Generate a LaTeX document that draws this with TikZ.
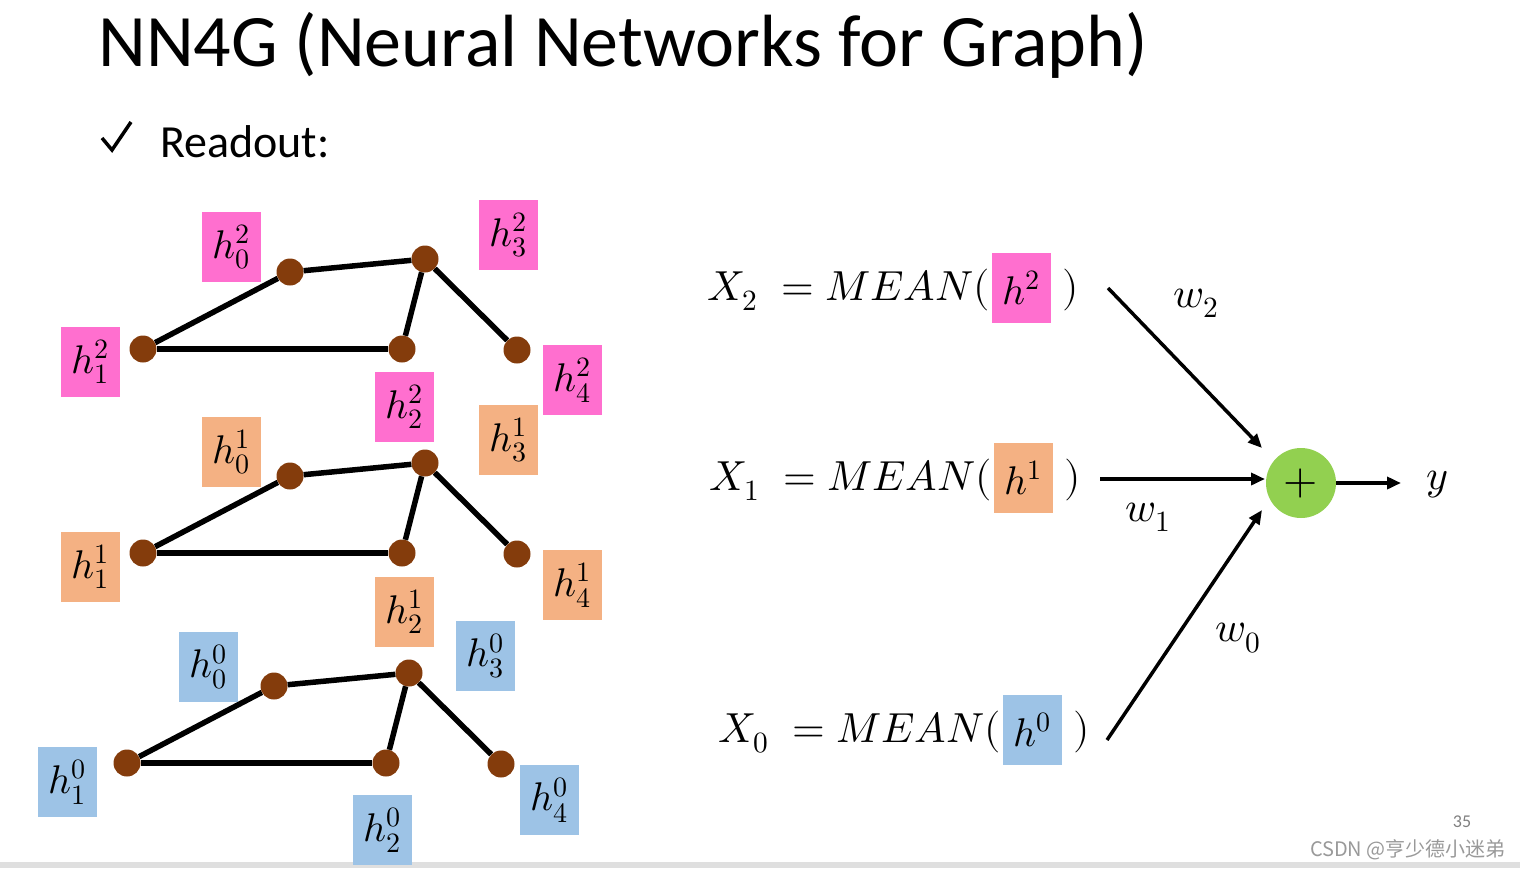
\documentclass[tikz,border=0pt]{standalone}
\usepackage{fontspec}
\usepackage{unicode-math}
\setmainfont{Carlito}
\setmathfont{Latin Modern Math}
\newfontfamily\cjk{Noto Sans CJK SC}
\usetikzlibrary{arrows.meta}
\definecolor{hpink}{HTML}{FF6FCF}
\definecolor{horange}{HTML}{F4B183}
\definecolor{hblue}{HTML}{9DC3E6}
\definecolor{vbrown}{HTML}{843C0C}
\definecolor{pgreen}{HTML}{92D050}
\begin{document}
\begin{tikzpicture}[x=1pt,y=1pt,yscale=-1,
  vert/.style={circle,fill=vbrown,minimum size=27,inner sep=0},
  edge/.style={line width=5.5},
  hlab/.style={minimum width=59,minimum height=70,inner sep=0,font=\fontsize{40}{40}\selectfont},
  mathtxt/.style={inner sep=0,font=\fontsize{42}{42}\selectfont},
  arr/.style={line width=3.5,-{Triangle[length=14,width=12]}}]
\useasboundingbox (0,0) rectangle (1520,868);
\fill[gray!25] (0,862) rectangle (1520,868);
\node[anchor=west,inner sep=0,font=\fontsize{74}{74}\selectfont] at (98,45) {NN4G (Neural Networks for Graph)};
\draw[line width=3.5] (102,138) -- (112,150) -- (131,122);
\node[anchor=west,inner sep=0,font=\fontsize{46}{46}\selectfont] at (160,142) {Readout:};
% three layers
\foreach \k/\dx/\dy in {2/0/0,1/0/204,0/-16/414}{
  \begin{scope}[shift={(\dx,\dy)}]
  \node[vert] (a\k0) at (290,272) {};
  \node[vert] (a\k1) at (143,349) {};
  \node[vert] (a\k2) at (402,349) {};
  \node[vert] (a\k3) at (425,259) {};
  \node[vert] (a\k4) at (517,350) {};
  \draw[edge] (a\k1) -- (a\k0) -- (a\k3) -- (a\k2);
  \draw[edge] (a\k1) -- (a\k2);
  \draw[edge] (a\k3) -- (a\k4);
  \end{scope}
}
\foreach \k/\dx/\dy/\c in {2/0/0/hpink,1/0/205/horange}{
  \node[hlab,fill=\c] (l\k0) at (231+\dx,247+\dy) {$h_0^{\k}$};
  \node[hlab,fill=\c] (l\k1) at (90+\dx,362+\dy) {$h_1^{\k}$};
  \node[hlab,fill=\c] (l\k2) at (404+\dx,407+\dy) {$h_2^{\k}$};
  \node[hlab,fill=\c] (l\k3) at (508+\dx,235+\dy) {$h_3^{\k}$};
  \node[hlab,fill=\c] (l\k4) at (572+\dx,380+\dy) {$h_4^{\k}$};
}
\node[hlab,fill=hblue] (l00) at (208,667) {$h_0^{0}$};
\node[hlab,fill=hblue] (l01) at (67,782) {$h_1^{0}$};
\node[hlab,fill=hblue] (l02) at (382,830) {$h_2^{0}$};
\node[hlab,fill=hblue] (l03) at (485,656) {$h_3^{0}$};
\node[hlab,fill=hblue] (l04) at (549,800) {$h_4^{0}$};
% readout
\node[mathtxt,anchor=east] (x2) at (990,290) {$X_2\;=MEAN($};
\node[hlab,fill=hpink] (b2) at (1021,288) {$h^{2}$};
\node[mathtxt,anchor=west] (r2) at (1062,290) {$)$};
\node[mathtxt,anchor=east] (x1) at (992,480) {$X_1\;=MEAN($};
\node[hlab,fill=horange] (b1) at (1023,478) {$h^{1}$};
\node[mathtxt,anchor=west] (r1) at (1064,480) {$)$};
\node[mathtxt,anchor=east] (x0) at (1001,732) {$X_0\;=MEAN($};
\node[hlab,fill=hblue] (b0) at (1032,730) {$h^{0}$};
\node[mathtxt,anchor=west] (r0) at (1073,732) {$)$};
\node[circle,fill=pgreen,minimum size=70,inner sep=0,font=\fontsize{44}{44}\selectfont] (p) at (1301,483) {$+$};
\node[mathtxt] (y) at (1437,485) {$y$};
\coordinate (s2) at (1108,288);
\coordinate (s1) at (1100,479);
\coordinate (s0) at (1107,740);
\draw[arr] (s2) -- (1262,448);
\draw[arr] (s1) -- (1265,479);
\draw[arr] (s0) -- (1262,510);
\draw[arr] (p) -- (1401,483);
\node[mathtxt] at (1196,303) {$w_2$};
\node[mathtxt] at (1148,517) {$w_1$};
\node[mathtxt] at (1238,638) {$w_0$};
\node[inner sep=0,text=gray,font=\fontsize{18}{18}\selectfont] at (1462,822) {35};
\node[inner sep=0,anchor=east,text=gray!80,font=\cjk\fontsize{20}{20}\selectfont] at (1506,850) {CSDN @亨少德小迷弟};
\end{tikzpicture}
\end{document}
